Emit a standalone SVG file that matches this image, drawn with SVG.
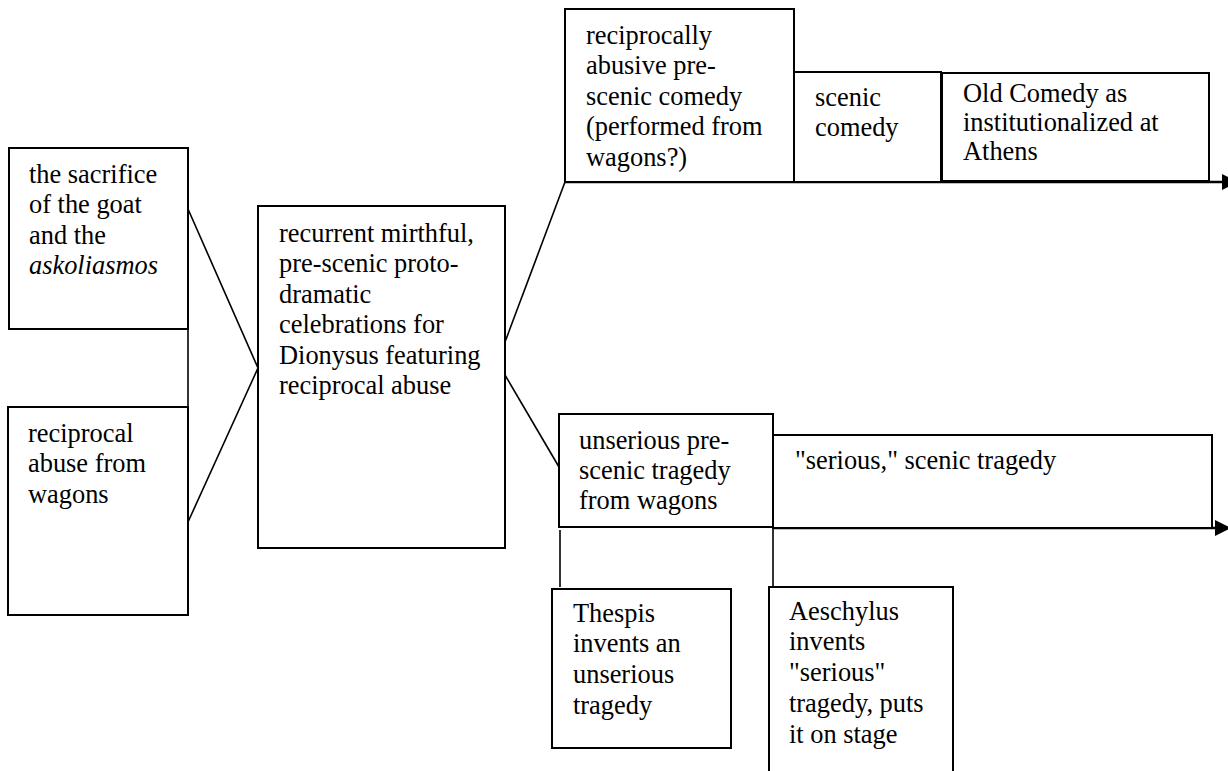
<svg xmlns="http://www.w3.org/2000/svg" width="1228" height="771" viewBox="0 0 1228 771">
<style>
.box{fill:#fff;stroke:#000;stroke-width:2}
.ln{fill:none;stroke:#000;stroke-width:1.6}
.arr{fill:none;stroke:#000;stroke-width:2.4}
text{font-family:"Liberation Serif","Times New Roman",serif;font-size:26.4px;fill:#000}
</style>
<defs>
<marker id="ah" viewBox="0 0 16 16" refX="0" refY="8" markerWidth="16" markerHeight="16" markerUnits="userSpaceOnUse" orient="auto">
<path d="M0,0 L16,8 L0,16 z" fill="#000"/>
</marker>
</defs>
<rect width="1228" height="771" fill="#fff"/>
<g id="connectors">
<line class="ln" x1="188" y1="329" x2="188" y2="407"/>
<polyline class="ln" points="188,209 258,368 188,522"/>
<line class="ln" x1="505" y1="342" x2="565" y2="182"/>
<line class="ln" x1="505" y1="375" x2="559" y2="467"/>
<line class="ln" x1="560" y1="530" x2="560" y2="587"/>
<line class="ln" x1="773" y1="528" x2="773" y2="586"/>
<line class="arr" x1="565" y1="182" x2="1222" y2="182" marker-end="url(#ah)"/>
<line class="arr" x1="773" y1="528" x2="1215" y2="528" marker-end="url(#ah)"/>
</g>
<g id="n-sacrifice">
<rect class="box" x="9" y="148" width="179" height="181"/>
<text x="29" y="183">the sacrifice</text>
<text x="29" y="213">of the goat</text>
<text x="29" y="244">and the</text>
<text x="29" y="274" font-style="italic">askoliasmos</text>
</g>
<g id="n-wagons">
<rect class="box" x="8" y="407" width="180" height="208"/>
<text x="28" y="442">reciprocal</text>
<text x="28" y="472">abuse from</text>
<text x="28" y="503">wagons</text>
</g>
<g id="n-celebrations">
<rect class="box" x="258" y="206" width="247" height="342"/>
<text x="279" y="242">recurrent mirthful,</text>
<text x="279" y="272">pre-scenic proto-</text>
<text x="279" y="303">dramatic</text>
<text x="279" y="333">celebrations for</text>
<text x="279" y="364">Dionysus featuring</text>
<text x="279" y="394">reciprocal abuse</text>
</g>
<g id="n-prescenic-comedy">
<rect class="box" x="565" y="9" width="229" height="173"/>
<text x="586" y="44">reciprocally</text>
<text x="586" y="74">abusive pre-</text>
<text x="586" y="105">scenic comedy</text>
<text x="586" y="135">(performed from</text>
<text x="586" y="166">wagons?)</text>
</g>
<g id="n-scenic-comedy">
<rect class="box" x="794" y="72" width="147" height="110"/>
<text x="815" y="106">scenic</text>
<text x="815" y="136">comedy</text>
</g>
<g id="n-old-comedy">
<rect class="box" x="942" y="73" width="267" height="108"/>
<text x="963" y="102">Old Comedy as</text>
<text x="963" y="131">institutionalized at</text>
<text x="963" y="160">Athens</text>
</g>
<g id="n-prescenic-tragedy">
<rect class="box" x="559" y="414" width="214" height="113"/>
<text x="579" y="449">unserious pre-</text>
<text x="579" y="479">scenic tragedy</text>
<text x="579" y="509">from wagons</text>
</g>
<g id="n-scenic-tragedy">
<rect class="box" x="773" y="435" width="439" height="93"/>
<text x="795" y="469">"serious," scenic tragedy</text>
</g>
<g id="n-thespis">
<rect class="box" x="552" y="589" width="179" height="159"/>
<text x="573" y="622">Thespis</text>
<text x="573" y="652">invents an</text>
<text x="573" y="683">unserious</text>
<text x="573" y="714">tragedy</text>
</g>
<g id="n-aeschylus">
<rect class="box" x="769" y="587" width="184" height="200"/>
<text x="789" y="620">Aeschylus</text>
<text x="789" y="650">invents</text>
<text x="789" y="681">"serious"</text>
<text x="789" y="712">tragedy, puts</text>
<text x="789" y="743">it on stage</text>
</g>
</svg>
